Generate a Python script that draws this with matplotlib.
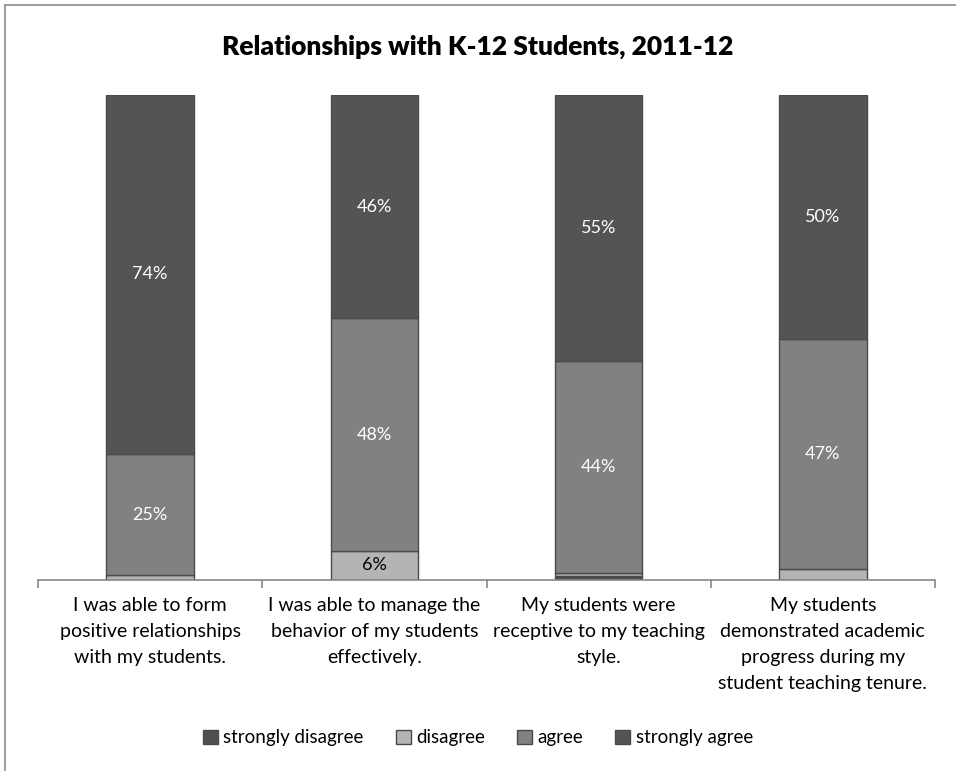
import matplotlib
matplotlib.use("Agg")
import matplotlib.pyplot as plt
from matplotlib.patches import Patch
import numpy as np

plt.rcParams['font.family'] = ['Lato', 'DejaVu Sans']

categories = [
    "I was able to form\npositive relationships\nwith my students.",
    "I was able to manage the\nbehavior of my students\neffectively.",
    "My students were\nreceptive to my teaching\nstyle.",
    "My students\ndemonstrated academic\nprogress during my\nstudent teaching tenure.",
]
strongly_disagree = [0.0, 0.0, 0.8, 0.0]
disagree = [1.0, 6.0, 0.6, 2.3]
agree = [25.0, 48.0, 43.8, 47.3]
strongly_agree = [74.0, 46.0, 54.8, 50.4]

series = [
    ("strongly disagree", strongly_disagree, "#4f4f4f", "white"),
    ("disagree", disagree, "#b4b4b4", "black"),
    ("agree", agree, "#818181", "white"),
    ("strongly agree", strongly_agree, "#545454", "white"),
]

fig = plt.figure(figsize=(9.56, 7.71), dpi=100)
# outer chart frame
fig.add_artist(plt.Line2D([5/956, 1.0], [1-5/771, 1-5/771], color="#8c8c8c", lw=1.2))
fig.add_artist(plt.Line2D([5/956, 5/956], [0, 1-5/771], color="#8c8c8c", lw=1.2))

ax = fig.add_axes([38/956, 1-580/771, (935-38)/956, (580-95)/771])
x = np.arange(len(categories))
bottom = np.zeros(len(categories))
width = 0.39
for name, vals, color, tcolor in series:
    vals = np.array(vals)
    ax.bar(x, vals, width, bottom=bottom, color=color, edgecolor="#4a4a4a",
           linewidth=1.0, label=name)
    for xi, b, v in zip(x, bottom, vals):
        if v >= 5:
            ax.text(xi, b + v / 2, f"{v:.0f}%", ha="center", va="center",
                    color=tcolor, fontsize=13)
    bottom += vals

ax.set_xlim(-0.5, 3.5)
ax.set_ylim(0, 100)
ax.set_yticks([])
for s in ["top", "right", "left"]:
    ax.spines[s].set_visible(False)
ax.spines["bottom"].set_color("#878787")
ax.spines["bottom"].set_linewidth(1.2)
ax.set_xticks(np.arange(-0.5, 4.0, 1.0))
ax.set_xticklabels([])
ax.tick_params(axis="x", direction="out", length=6, color="#878787", width=1.2)
for xi, lab in zip(x, categories):
    ax.text(xi, -3.6, lab, ha="center", va="top", fontsize=14,
            linespacing=1.62, transform=ax.transData, clip_on=False)

fig.text(0.5, 1-47/771, "Relationships with K-12 Students, 2011-12",
         ha="center", va="center", fontsize=19, fontweight="heavy")

handles = [Patch(facecolor=c, edgecolor="#4a4a4a", label=n) for n, _, c, _ in series]
fig.legend(handles=handles, loc="center", bbox_to_anchor=(0.5, 1-738/771),
           ncol=4, frameon=False, fontsize=13.5, handlelength=0.8,
           handleheight=0.8, handletextpad=0.3, columnspacing=1.7)

fig.savefig("out.png", dpi=100)
